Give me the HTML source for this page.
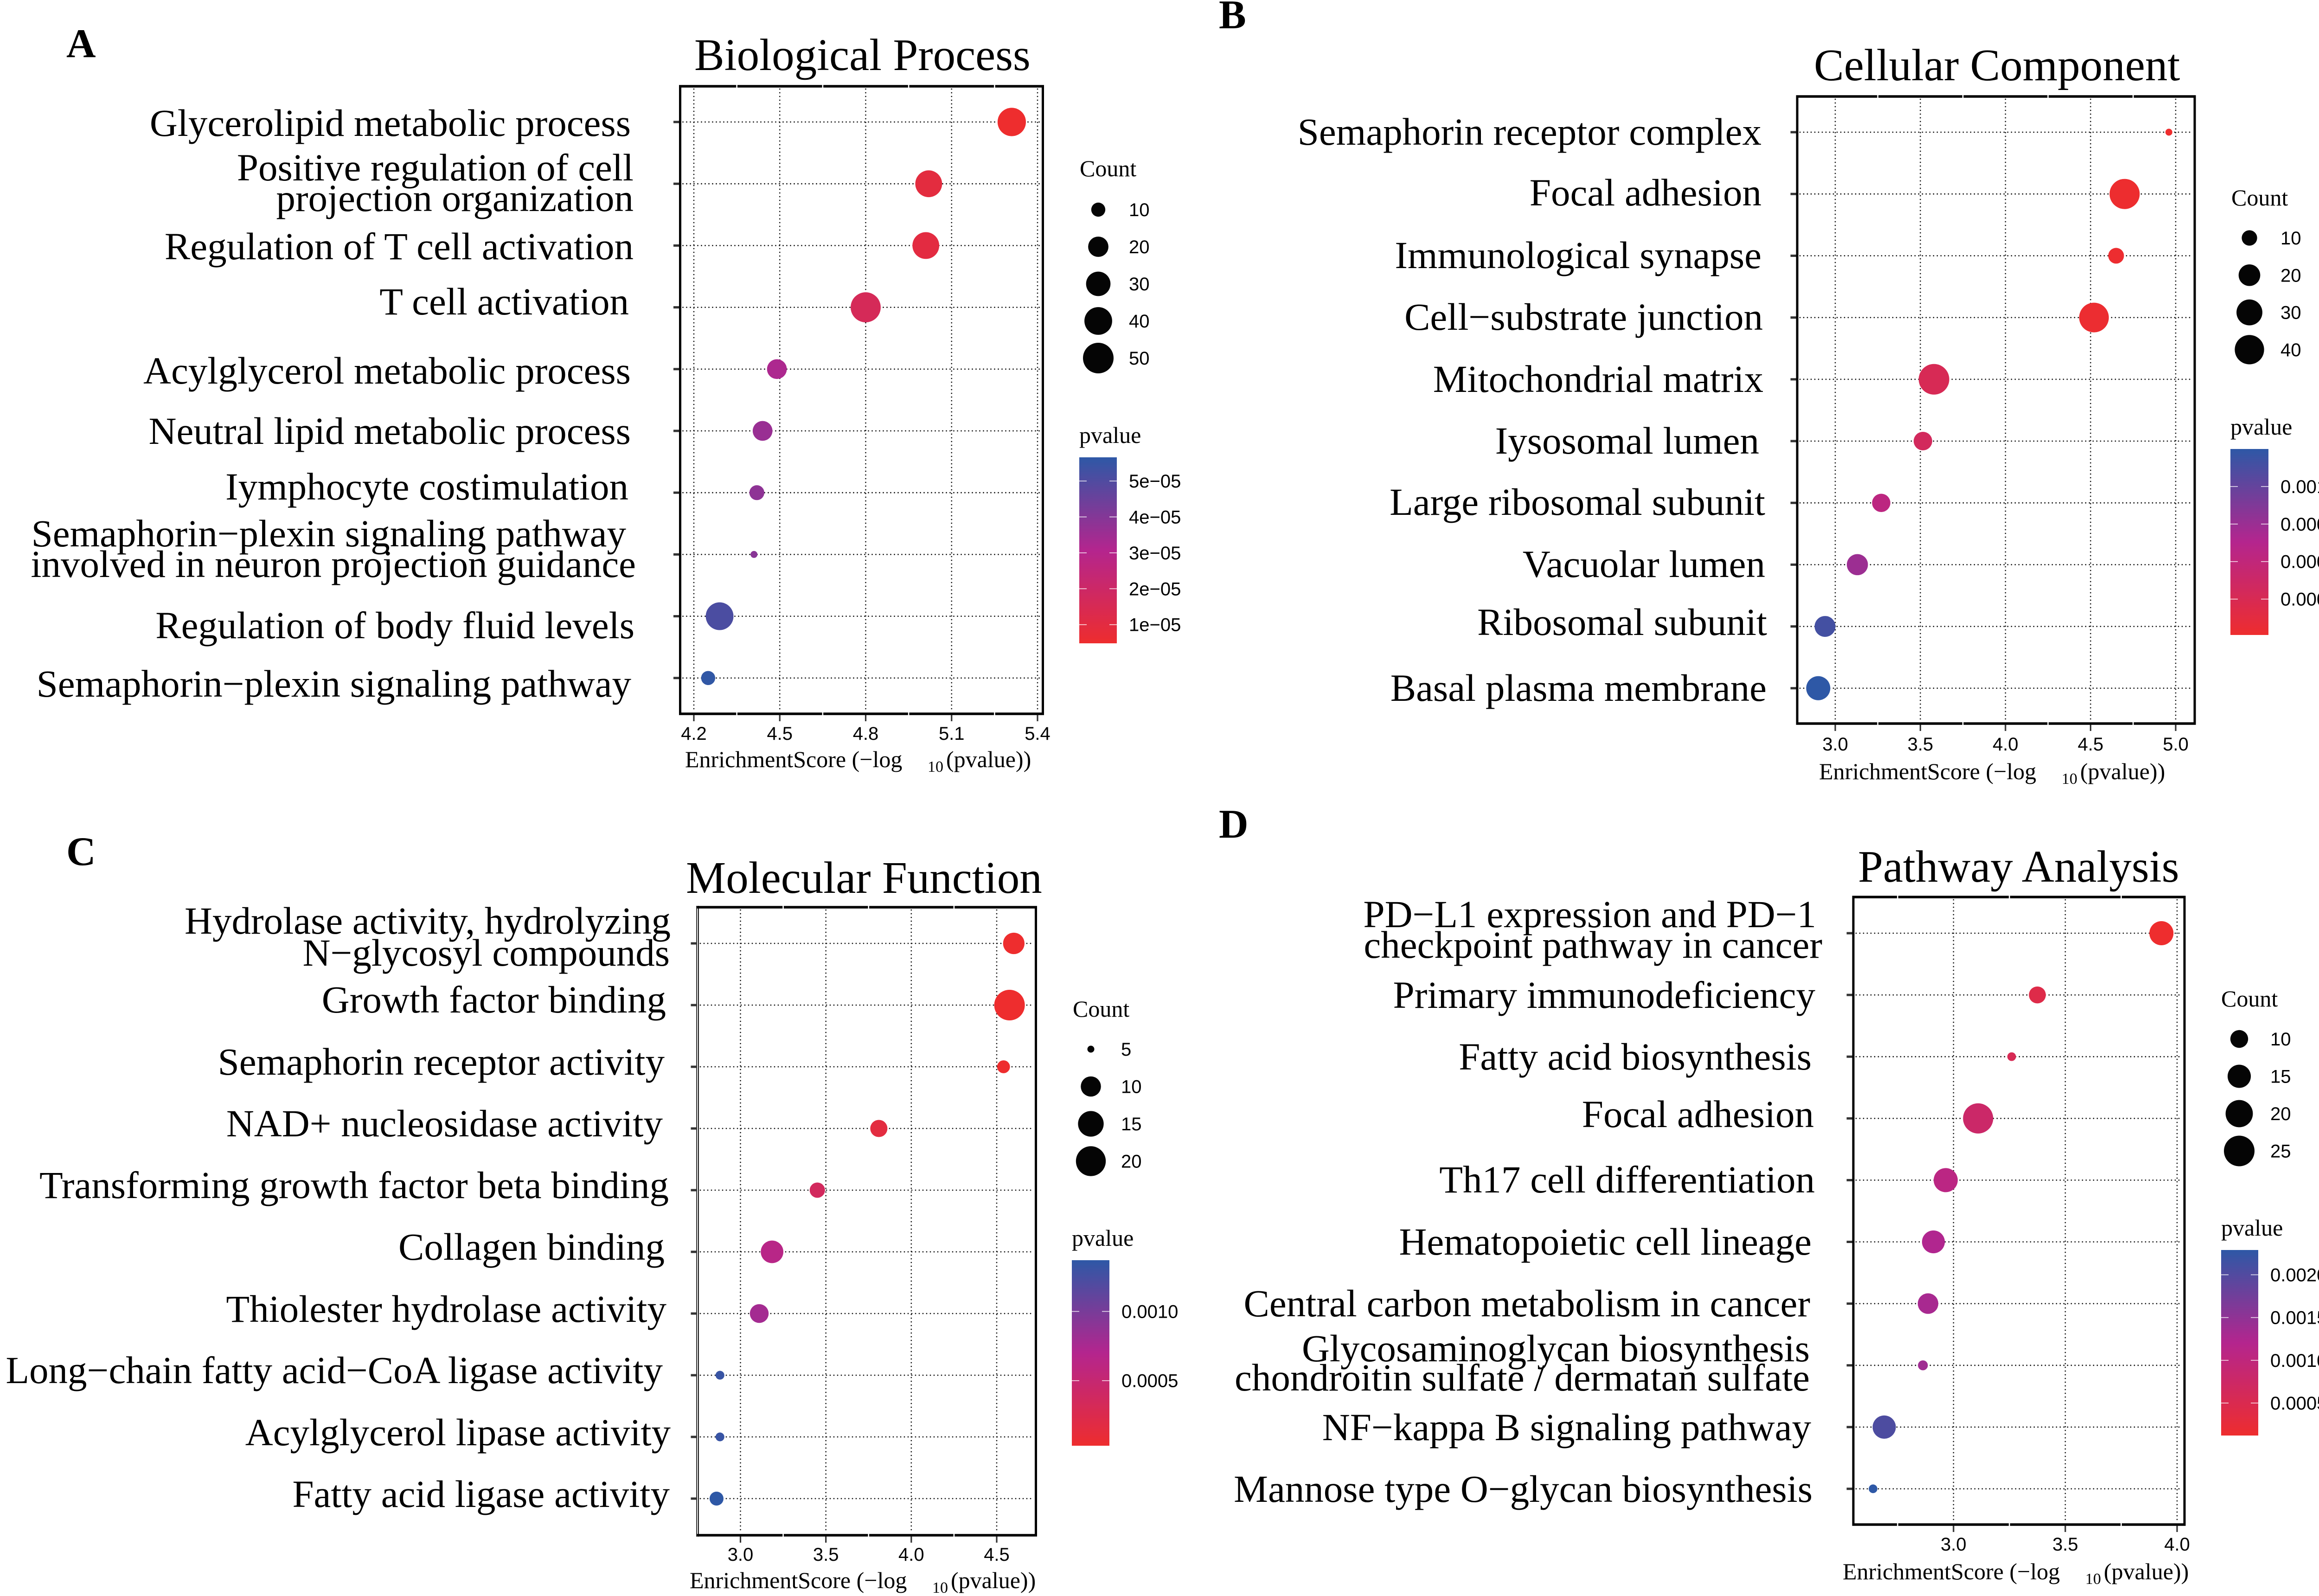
<!DOCTYPE html>
<html lang="en">
<head>
<meta charset="utf-8">
<title>Enrichment dot plots</title>
<style>
html,body{margin:0;padding:0;background:#fff}
svg{display:block}
text{fill:#000}
.serif{font-family:"Liberation Serif","Times New Roman",serif}
.sans{font-family:"Liberation Sans",Arial,sans-serif}
</style>
</head>
<body>
<svg id="figure" xmlns="http://www.w3.org/2000/svg" width="5071" height="3441" viewBox="0 0 5071 3441">
  <defs>
    <linearGradient id="pvalue-gradient" x1="0" y1="1" x2="0" y2="0">
      <stop offset="0" stop-color="#ee2d2e"/>
      <stop offset="0.5" stop-color="#b4258e"/>
      <stop offset="1" stop-color="#2e58a6"/>
    </linearGradient>
  </defs>
  <rect width="5071" height="3441" fill="#fff"/>
  <text class="serif" x="143" y="123" font-size="88" font-weight="bold">A</text>
  <text class="serif" x="2628" y="61" font-size="88" font-weight="bold">B</text>
  <text class="serif" x="143" y="1865" font-size="88" font-weight="bold">C</text>
  <text class="serif" x="2628" y="1806" font-size="88" font-weight="bold">D</text>
  <text class="serif" x="1497" y="151" font-size="97">Biological Process</text>
  <text class="serif" x="3911" y="173" font-size="97">Cellular Component</text>
  <text class="serif" x="1479" y="1925" font-size="97">Molecular Function</text>
  <text class="serif" x="4006" y="1901" font-size="97">Pathway Analysis</text>
</svg>
<script>
// ---------- Panel A data ----------
const aCategories = ['Glycerolipid metabolic process','Positive regulation of cell\nprojection organization','Regulation of T cell activation','T cell activation','Acylglycerol metabolic process','Neutral lipid metabolic process','Iymphocyte costimulation','Semaphorin\u2212plexin signaling pathway\ninvolved in neuron projection guidance','Regulation of body fluid levels','Semaphorin\u2212plexin signaling pathway'];
const aScores = [5.31,5.02,5.01,4.80,4.49,4.44,4.42,4.41,4.29,4.25];
const aCounts = [42,37,37,48,19,19,11,6,40,10];
const aPvalues = [4.9e-6,9.5e-6,9.8e-6,1.6e-5,3.2e-5,3.6e-5,3.8e-5,3.9e-5,5.1e-5,5.6e-5];
const aXTicks = [4.2,4.5,4.8,5.1,5.4];
const aXTickLabels = ['4.2','4.5','4.8','5.1','5.4'];
const aSizeBreaks = [10,20,30,40,50];
const aColorBreaks = [5e-5,4e-5,3e-5,2e-5,1e-5];
const aColorLabels = ['5e\u221205','4e\u221205','3e\u221205','2e\u221205','1e\u221205'];

// ---------- Panel B data ----------
const bCategories = ['Semaphorin receptor complex','Focal adhesion','Immunological synapse','Cell\u2212substrate junction','Mitochondrial matrix','Iysosomal lumen','Large ribosomal subunit','Vacuolar lumen','Ribosomal subunit','Basal plasma membrane'];
const bScores = [4.96,4.70,4.65,4.52,3.58,3.515,3.27,3.13,2.94,2.90];
const bCounts = [5,42.5,10.4,41,44,14.4,14,19,18.5,25.5];
const bPvalues = [1.1e-5,2.0e-5,2.2e-5,3.0e-5,2.6e-4,3.05e-4,5.4e-4,7.4e-4,1.15e-3,1.26e-3];
const bXTicks = [3.0,3.5,4.0,4.5,5.0];
const bXTickLabels = ['3.0','3.5','4.0','4.5','5.0'];
const bSizeBreaks = [10,20,30,40];
const bColorBreaks = [0.001,0.00075,0.0005,0.00025];
const bColorLabels = ['0.00100','0.00075','0.00050','0.00025'];

// ---------- Panel C data ----------
const cCategories = ['Hydrolase activity, hydrolyzing\nN\u2212glycosyl compounds','Growth factor binding','Semaphorin receptor activity','NAD+ nucleosidase activity','Transforming growth factor beta binding','Collagen binding','Thiolester hydrolase activity','Long\u2212chain fatty acid\u2212CoA ligase activity','Acylglycerol lipase activity','Fatty acid ligase activity'];
const cScores = [4.60,4.575,4.54,3.81,3.45,3.185,3.11,2.88,2.88,2.86];
const cCounts = [11,21,6,8,7,12,9,5.1,5.1,6.4];
const cPvalues = [2.5e-5,2.7e-5,2.9e-5,1.55e-4,3.55e-4,6.5e-4,7.8e-4,1.32e-3,1.32e-3,1.38e-3];
const cXTicks = [3.0,3.5,4.0,4.5];
const cXTickLabels = ['3.0','3.5','4.0','4.5'];
const cSizeBreaks = [5,10,15,20];
const cColorBreaks = [0.001,0.0005];
const cColorLabels = ['0.0010','0.0005'];

// ---------- Panel D data ----------
const dCategories = ['PD\u2212L1 expression and PD\u22121\ncheckpoint pathway in cancer','Primary immunodeficiency','Fatty acid biosynthesis','Focal adhesion','Th17 cell differentiation','Hematopoietic cell lineage','Central carbon metabolism in cancer','Glycosaminoglycan biosynthesis\nchondroitin sulfate / dermatan sulfate','NF\u2212kappa B signaling pathway','Mannose type O\u2212glycan biosynthesis'];
const dScores = [3.93,3.375,3.26,3.11,2.965,2.91,2.886,2.863,2.69,2.64];
const dCounts = [16,9.4,6.1,24.3,16,14.6,12.3,6.3,15,6.1];
const dPvalues = [1.17e-4,4.2e-4,5.5e-4,7.8e-4,1.08e-3,1.23e-3,1.3e-3,1.37e-3,2.04e-3,2.29e-3];
const dXTicks = [3.0,3.5,4.0];
const dXTickLabels = ['3.0','3.5','4.0'];
const dSizeBreaks = [10,15,20,25];
const dColorBreaks = [0.002,0.0015,0.001,0.0005];
const dColorLabels = ['0.0020','0.0015','0.0010','0.0005'];

// ---------- Layout (geometry only; separate from the data above) ----------
const panelGeometry = {
  a:{left:1466.5,right:2248.5,top:186,bottom:1539,rowFirst:263,rowStep:133.2,xv0:4.2,xp0:1496,xv1:5.4,xp1:2237,tickBase:56,titleX:1477,titleBase:115,
     sizeMin:6,sizeMax:50,legendX:2368,countTitleX:2328,countTitleY:380,legendFirst:452,legendStep:80,legendLabelX:2434,pvalueTitleX:2327,pvalueTitleY:955,barX:2327,barW:81,barTop:986,barBottom:1387,pLo:4.8e-6,pHi:5.66e-5},
  b:{left:3875,right:4732,top:208,bottom:1560,rowFirst:285,rowStep:133.2,xv0:3.0,xp0:3957,xv1:5.0,xp1:4691,tickBase:58,titleX:3922,titleBase:120,
     sizeMin:5,sizeMax:44,legendX:4850,countTitleX:4811,countTitleY:443,legendFirst:513,legendStep:80.3,legendLabelX:4917,pvalueTitleX:4809,pvalueTitleY:937,barX:4809,barW:82,barTop:968,barBottom:1369,pLo:1.1e-5,pHi:1.25e-3},
  c:{left:1504,right:2233.5,top:1956,bottom:3310,rowFirst:2034,rowStep:133,xv0:3.0,xp0:1596.5,xv1:4.5,xp1:2149,tickBase:55,titleX:1487,titleBase:114,doubleLeft:true,
     sizeMin:5,sizeMax:21,legendX:2352,countTitleX:2313,countTitleY:2192,legendFirst:2262,legendStep:80.5,legendLabelX:2417,pvalueTitleX:2311,pvalueTitleY:2686,barX:2311,barW:81,barTop:2717,barBottom:3117,pLo:3e-5,pHi:1.37e-3},
  d:{left:3996,right:4710,top:1934,bottom:3287,rowFirst:2012,rowStep:133.1,xv0:3.0,xp0:4212,xv1:4.0,xp1:4694,tickBase:56,titleX:3973,titleBase:118,
     sizeMin:6,sizeMax:25,legendX:4828,countTitleX:4789,countTitleY:2170,legendFirst:2240,legendStep:80.5,legendLabelX:4895,pvalueTitleX:4789,pvalueTitleY:2664,barX:4789,barW:80,barTop:2695,barBottom:3095,pLo:1.2e-4,pHi:2.29e-3}
};
const aLabelAnchors = [[1360,293],[1366,389],[1366,455],[1366,559],[1356,678],[1360,827],[1360,957],[1355,1077],[1350,1178],[1371,1244],[1368,1376],[1361,1502]];
const bLabelAnchors = [[3798,312],[3798,443],[3798,578],[3801,711],[3802,845],[3793,978],[3806,1110],[3806,1244],[3810,1369],[3809,1511]];
const cLabelAnchors = [[1446,2013],[1444,2082],[1436,2183],[1433,2317],[1429,2450],[1442,2583],[1433,2716],[1437,2850],[1429,2982],[1446,3116],[1444,3249]];
const dLabelAnchors = [[3916,1999],[3929,2065],[3914,2173],[3906,2306],[3911,2430],[3913,2571],[3906,2705],[3903,2838],[3902,2935],[3902,2998],[3905,3105],[3908,3238]];

const SVGNS = 'http://www.w3.org/2000/svg';
const figure = document.getElementById('figure');
const SIZE_LOW = 15, SIZE_HIGH = 66;
const gradientStops = [[0xee,0x2d,0x2e],[0xb4,0x25,0x8e],[0x2e,0x58,0xa6]];

function make(tag, attrs, parent, text) {
  const node = document.createElementNS(SVGNS, tag);
  for (const key in attrs) node.setAttribute(key, attrs[key]);
  if (text !== undefined) node.textContent = text;
  parent.appendChild(node);
  return node;
}
function colorAt(t) {
  const clamped = Math.max(0, Math.min(1, t));
  const seg = clamped < 0.5 ? 0 : 1;
  const f = clamped < 0.5 ? clamped * 2 : (clamped - 0.5) * 2;
  const mix = [0,1,2].map(function(i){ return Math.round(gradientStops[seg][i] + (gradientStops[seg+1][i] - gradientStops[seg][i]) * f); });
  return 'rgb(' + mix.join(',') + ')';
}

function drawPanel(key, categories, scores, counts, pvalues, xTicks, xTickLabels, sizeBreaks, colorBreaks, colorLabels, labelAnchors) {
  const g = panelGeometry[key];
  const xScale = function(v){ return g.xp0 + (v - g.xv0) * (g.xp1 - g.xp0) / (g.xv1 - g.xv0); };
  const yScale = function(i){ return g.rowFirst + i * g.rowStep; };
  const sizeScale = function(c){ return SIZE_LOW + (SIZE_HIGH - SIZE_LOW) * Math.sqrt(Math.max(0, (c - g.sizeMin) / (g.sizeMax - g.sizeMin))); };
  const colorT = function(p){ return (p - g.pLo) / (g.pHi - g.pLo); };
  const barY = function(p){ return g.barBottom - colorT(p) * (g.barBottom - g.barTop); };

  const panel = make('g', {}, figure);
  
  

  // grid
  xTicks.forEach(function(v){
    const line = make('line', {x1:xScale(v), x2:xScale(v), y1:g.top+6, y2:g.bottom-5, stroke:'#111', 'stroke-width':2.8, 'stroke-linecap':'round', 'stroke-dasharray':'0 8'}, panel);
    
    
  });
  categories.forEach(function(name, i){
    const line = make('line', {x1:g.left+6, x2:g.right-7, y1:yScale(i), y2:yScale(i), stroke:'#111', 'stroke-width':2.8, 'stroke-linecap':'round', 'stroke-dasharray':'0 8'}, panel);
    
    
  });

  // frame
  const frameTop = make('line', {x1:g.left-2.5, x2:g.right+2.5, y1:g.top, y2:g.top, stroke:'#000', 'stroke-width':5.5}, panel);
  
  
  const frameBottom = make('line', {x1:g.left-2.5, x2:g.right+2.5, y1:g.bottom, y2:g.bottom, stroke:'#000', 'stroke-width':5.5}, panel);
  
  
  const frameRight = make('line', {x1:g.right, x2:g.right, y1:g.top-2.5, y2:g.bottom+2.5, stroke:'#000', 'stroke-width':5}, panel);
  
  
  if (g.doubleLeft) {
    const outer = make('line', {x1:g.left-2, x2:g.left-2, y1:g.top-3, y2:g.bottom+3, stroke:'#222', 'stroke-width':1.8}, panel);
    
    
    const inner = make('line', {x1:g.left+1.8, x2:g.left+1.8, y1:g.top-3, y2:g.bottom+3, stroke:'#000', 'stroke-width':2}, panel);
    
    
  } else {
    const frameLeft = make('line', {x1:g.left, x2:g.left, y1:g.top-2.5, y2:g.bottom+2.5, stroke:'#000', 'stroke-width':5}, panel);
    
    
  }

  // white minor breaks cut into the top and bottom frame
  const half = (xTicks[1] - xTicks[0]) / 2;
  const minorValues = xTicks.map(function(v){ return v - half; }).concat([xTicks[xTicks.length-1] + half]);
  minorValues.forEach(function(v){
    const px = xScale(v);
    if (px < g.left + 8 || px > g.right - 8) return;
    [g.top, g.bottom].forEach(function(yy){
      const cut = make('line', {x1:px, x2:px, y1:yy-3.5, y2:yy+3.5, stroke:'#fff', 'stroke-width':2.6}, panel);
      
      
    });
  });

  // x ticks and labels
  xTicks.forEach(function(v, i){
    const tick = make('line', {x1:xScale(v), x2:xScale(v), y1:g.bottom+2.5, y2:g.bottom+16, stroke:'#333', 'stroke-width':3.2}, panel);
    
    
    const label = make('text', {x:xScale(v), y:g.bottom+g.tickBase, 'text-anchor':'middle', 'font-size':40, class:'sans'}, panel, xTickLabels[i]);
    
    
  });

  // x axis title
  const titleY = g.bottom + g.titleBase;
  const t1 = make('text', {x:g.titleX, y:titleY, 'font-size':50, class:'serif'}, panel, 'EnrichmentScore (\u2212log');
  
  
  const t2 = make('text', {x:g.titleX+523, y:titleY+10, 'font-size':34, class:'serif'}, panel, '10');
  
  
  const t3 = make('text', {x:g.titleX+563, y:titleY, 'font-size':50, class:'serif'}, panel, '(pvalue))');
  
  

  // y ticks and category labels
  let anchorIndex = 0;
  categories.forEach(function(name, i){
    const tick = make('line', {x1:g.left-14.5, x2:g.left-2.5, y1:yScale(i), y2:yScale(i), stroke:'#333', 'stroke-width':5}, panel);
    
    
    name.split('\n').forEach(function(lineText){
      const anchor = labelAnchors[anchorIndex++];
      const label = make('text', {x:anchor[0], y:anchor[1], 'text-anchor':'end', 'font-size':83, class:'serif'}, panel, lineText);
      
      
    });
  });

  // points
  scores.forEach(function(score, i){
    const point = make('circle', {cx:xScale(score), cy:yScale(i), r:sizeScale(counts[i])/2, fill:colorAt(colorT(pvalues[i]))}, panel);
    
    
  });

  // size legend
  const countTitle = make('text', {x:g.countTitleX, y:g.countTitleY, 'font-size':50, class:'serif'}, panel, 'Count');
  
  
  sizeBreaks.forEach(function(c, i){
    const cy = g.legendFirst + i * g.legendStep;
    const swatch = make('circle', {cx:g.legendX, cy:cy, r:sizeScale(c)/2, fill:'#050505'}, panel);
    
    
    const label = make('text', {x:g.legendLabelX, y:cy+14, 'font-size':40, class:'sans'}, panel, String(c));
    
    
  });

  // colour bar
  const pvalueTitle = make('text', {x:g.pvalueTitleX, y:g.pvalueTitleY, 'font-size':50, class:'serif'}, panel, 'pvalue');
  
  
  const bar = make('rect', {x:g.barX, y:g.barTop, width:g.barW, height:g.barBottom-g.barTop, fill:'url(#pvalue-gradient)'}, panel);
  
  
  colorBreaks.forEach(function(p, i){
    const yy = barY(p);
    const left = make('line', {x1:g.barX, x2:g.barX+16, y1:yy, y2:yy, stroke:'#fff', 'stroke-width':1.6, 'stroke-opacity':0.85}, panel);
    
    
    const right = make('line', {x1:g.barX+g.barW-16, x2:g.barX+g.barW, y1:yy, y2:yy, stroke:'#fff', 'stroke-width':1.6, 'stroke-opacity':0.85}, panel);
    
    
    const label = make('text', {x:g.barX+g.barW+26, y:yy+14, 'font-size':40, class:'sans'}, panel, colorLabels[i]);
    
    
  });
}

drawPanel('a', aCategories, aScores, aCounts, aPvalues, aXTicks, aXTickLabels, aSizeBreaks, aColorBreaks, aColorLabels, aLabelAnchors);
drawPanel('b', bCategories, bScores, bCounts, bPvalues, bXTicks, bXTickLabels, bSizeBreaks, bColorBreaks, bColorLabels, bLabelAnchors);
drawPanel('c', cCategories, cScores, cCounts, cPvalues, cXTicks, cXTickLabels, cSizeBreaks, cColorBreaks, cColorLabels, cLabelAnchors);
drawPanel('d', dCategories, dScores, dCounts, dPvalues, dXTicks, dXTickLabels, dSizeBreaks, dColorBreaks, dColorLabels, dLabelAnchors);
</script>
</body>
</html>
